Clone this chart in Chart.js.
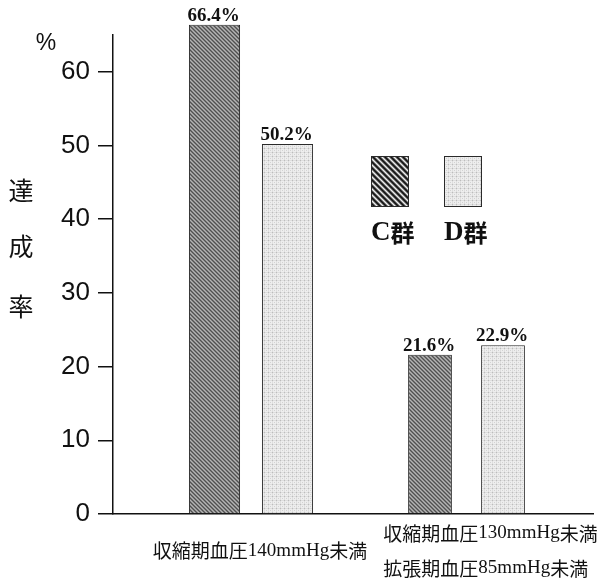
<!DOCTYPE html>
<html>
<head>
<meta charset="utf-8">
<script src="https://cdn.jsdelivr.net/npm/chart.js@4/dist/chart.umd.min.js"></script>
<style>
  html, body { margin: 0; padding: 0; background: #ffffff; }
  canvas { display: block; }
</style>
</head>
<body>
<canvas id="chart" width="605" height="584"></canvas>
<script>
// Categories (one entry per line of the axis label)
const categories = [
  ['収縮期血圧140mmHg未満'],
  ['収縮期血圧130mmHg未満', '拡張期血圧85mmHg未満']
];
const seriesNames = ['C群', 'D群'];
const seriesC = [66.4, 21.6];
const seriesD = [50.2, 22.9];
const yTitle = ['達', '成', '率'];
const yUnit = '%';

const SERIF = '"Liberation Serif", "Times New Roman", serif';
const SANS = '"Liberation Sans", Arial, sans-serif';
const CJK = '"Noto Sans CJK JP", "Noto Sans CJK SC", sans-serif';

const canvas = document.getElementById('chart');
const mainCtx = canvas.getContext('2d');

// Tiled fills built pixel by pixel
function makePattern(size, colorAt) {
  const tile = document.createElement('canvas');
  tile.width = tile.height = size;
  const g = tile.getContext('2d');
  for (let y = 0; y < size; y++) {
    for (let x = 0; x < size; x++) {
      g.fillStyle = colorAt(x, y);
      g.fillRect(x, y, 1, 1);
    }
  }
  return mainCtx.createPattern(tile, 'repeat');
}

// fine diagonal hatch for C bars
const hatchFine = makePattern(4, (x, y) => {
  const d = (x - y + 8) % 4;
  return ['#505050', '#7c7c7c', '#b4b4b4', '#8c8c8c'][d];
});
// coarse, high-contrast hatch for the C legend swatch
const hatchCoarse = makePattern(6, (x, y) => {
  const d = (x - y + 12) % 6;
  return ['#111111', '#3c3c3c', '#9a9a9a', '#efefef', '#9a9a9a', '#3c3c3c'][d];
});
// light stipple for D
const stipple = makePattern(4, (x, y) => {
  if (x === 0 && y === 0) return '#bcbcbc';
  if (x === 2 && y === 2) return '#d2d2d2';
  if (x === 0 || y === 0) return '#dedede';
  return '#eeeeee';
});

const seriesStyles = [
  { bar: hatchFine, swatch: hatchCoarse },
  { bar: stipple, swatch: stipple }
];
const seriesValues = [seriesC, seriesD];

// Bar width share inside each group
const groupBarPercent = [0.70, 0.60];

// One dataset per (group, series) so each group can have its own bar width
const datasets = [];
categories.forEach((_, gi) => {
  seriesValues.forEach((vals, si) => {
    datasets.push({
      label: seriesNames[si],
      seriesIndex: si,
      data: categories.map((__, k) => ({ x: k, y: k === gi ? vals[k] : null })),
      backgroundColor: seriesStyles[si].bar,
      borderColor: '#2a2a2a',
      borderWidth: 1,
      borderSkipped: 'bottom',
      categoryPercentage: 0.6775,
      barPercentage: groupBarPercent[gi],
      skipNull: true,
      clip: false
    });
  });
});

// Draw mixed CJK / Latin text: Latin runs in serif, the rest in CJK gothic
function runsOf(str) {
  const runs = [];
  for (const ch of str) {
    const latin = /[\x00-\x7F]/.test(ch);
    if (runs.length && runs[runs.length - 1].latin === latin) runs[runs.length - 1].t += ch;
    else runs.push({ t: ch, latin });
  }
  return runs;
}
function mixedWidth(ctx, str, latinFont, cjkFont) {
  let w = 0;
  for (const r of runsOf(str)) { ctx.font = r.latin ? latinFont : cjkFont; w += ctx.measureText(r.t).width; }
  return w;
}
function drawMixed(ctx, str, x, y, latinFont, cjkFont) {
  let cx = x;
  for (const r of runsOf(str)) {
    ctx.font = r.latin ? latinFont : cjkFont;
    ctx.fillText(r.t, cx, y);
    cx += ctx.measureText(r.t).width;
  }
}

const xLabelShift = [9, 24];

const decorations = {
  id: 'decorations',
  afterDraw(chart) {
    const ctx = chart.ctx;
    const xs = chart.scales.x;
    ctx.save();
    ctx.fillStyle = '#111111';
    ctx.textBaseline = 'alphabetic';

    // value labels over the bars
    ctx.textAlign = 'center';
    ctx.font = 'bold 19px ' + SERIF;
    chart.data.datasets.forEach((ds, di) => {
      const meta = chart.getDatasetMeta(di);
      ds.data.forEach((pt, k) => {
        if (pt.y === null) return;
        const el = meta.data[k];
        ctx.fillText(pt.y.toFixed(1) + '%', el.x - 1, el.y - 4);
      });
    });

    // category labels under the axis
    ctx.textAlign = 'left';
    ctx.textBaseline = 'middle';
    const latinF = '19px ' + SERIF;
    const cjkF = '19px ' + CJK;
    categories.forEach((lines, k) => {
      const cx = xs.getPixelForValue(k) + xLabelShift[k];
      const widths = lines.map(l => mixedWidth(ctx, l, latinF, cjkF));
      const blockW = Math.max(...widths);
      const left = lines.length > 1 ? cx - blockW / 2 : null;
      const lineGap = 35;
      const y0 = 551 - (lines.length - 1) * lineGap / 2;
      lines.forEach((l, i) => {
        const x = left !== null ? left : cx - widths[i] / 2;
        drawMixed(ctx, l, x, y0 + i * lineGap, latinF, cjkF);
      });
    });

    // y-axis title, stacked vertically
    ctx.textAlign = 'center';
    ctx.font = '25px ' + CJK;
    const titleY = [190, 246, 306];
    yTitle.forEach((ch, i) => ctx.fillText(ch, 21, titleY[i]));
    ctx.font = '23px ' + SANS;
    ctx.fillText(yUnit, 46, 44);

    // legend: large swatches with the group name below
    const swLeft = [371, 444];
    const swTop = 156, swW = 38, swH = 51;
    seriesNames.forEach((name, si) => {
      ctx.fillStyle = seriesStyles[si].swatch;
      ctx.fillRect(swLeft[si], swTop, swW, swH);
      ctx.strokeStyle = '#2a2a2a';
      ctx.lineWidth = 1;
      ctx.strokeRect(swLeft[si] + 0.5, swTop + 0.5, swW - 1, swH - 1);
      ctx.fillStyle = '#111111';
      ctx.textAlign = 'left';
      ctx.textBaseline = 'middle';
      drawMixed(ctx, name, swLeft[si], 233, 'bold 27px ' + SERIF, 'bold 24px ' + CJK);
    });
    ctx.restore();
  }
};

new Chart(mainCtx, {
  type: 'bar',
  data: { datasets },
  options: {
    responsive: false,
    animation: false,
    layout: { padding: { top: 35, right: 12, bottom: 0, left: 0 } },
    plugins: { legend: { display: false }, tooltip: { enabled: false } },
    scales: {
      x: {
        type: 'linear',
        min: -0.6404,
        max: 1.587,
        offset: false,
        grid: { display: false },
        ticks: { display: false, stepSize: 1, includeBounds: false },
        border: { display: true, color: '#111111', width: 1.5 },
        afterFit(scale) { scale.height = 70; }
      },
      y: {
        min: 0,
        max: 65,
        grid: {
          drawOnChartArea: false,
          drawTicks: true,
          tickLength: 15,
          color: '#111111',
          lineWidth: 1.5
        },
        border: { display: true, color: '#111111', width: 1.5 },
        ticks: {
          stepSize: 10,
          includeBounds: false,
          padding: 8,
          color: '#111111',
          font: { family: SANS, size: 26 }
        },
        afterFit(scale) { scale.width = 113; }
      }
    }
  },
  plugins: [decorations]
});
</script>
</body>
</html>
